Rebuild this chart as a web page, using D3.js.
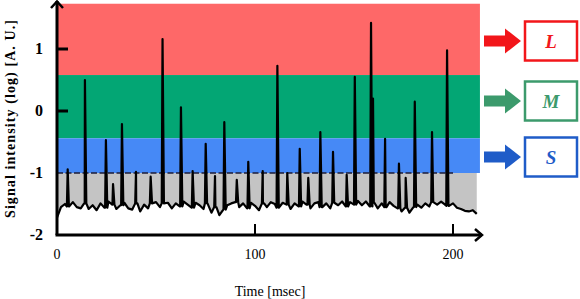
<!DOCTYPE html>
<html>
<head>
<meta charset="utf-8">
<script src="https://cdn.jsdelivr.net/npm/d3@7"></script>
<style>
  body { margin: 0; background: #fff; }
  text { font-family: 'Liberation Serif', 'DejaVu Serif', serif; }
</style>
</head>
<body>
<script>
// baseline noise, read every 2 ms
var baseTimes = d3.range(0, 216, 2)
var baseValues = [
  -1.72, -1.55, -1.50, -1.54, -1.47, -1.55, -1.57, -1.49, -1.58, -1.52,
  -1.60, -1.49, -1.56, -1.46, -1.51, -1.58, -1.52, -1.48, -1.57, -1.59,
  -1.49, -1.62, -1.51, -1.57, -1.49, -1.47, -1.55, -1.49, -1.48, -1.57,
  -1.49, -1.54, -1.46, -1.51, -1.56, -1.48, -1.52, -1.58, -1.49, -1.64,
  -1.55, -1.68, -1.59, -1.52, -1.49, -1.47, -1.55, -1.49, -1.57, -1.48,
  -1.53, -1.60, -1.49, -1.55, -1.47, -1.50, -1.56, -1.48, -1.51, -1.58,
  -1.49, -1.54, -1.46, -1.51, -1.57, -1.49, -1.47, -1.55, -1.49, -1.57,
  -1.48, -1.52, -1.46, -1.54, -1.47, -1.51, -1.45, -1.52, -1.46, -1.54,
  -1.48, -1.57, -1.49, -1.55, -1.47, -1.53, -1.57, -1.62, -1.56, -1.64,
  -1.55, -1.51, -1.56, -1.49, -1.54, -1.47, -1.51, -1.46, -1.51, -1.53,
  -1.49, -1.56, -1.58, -1.61, -1.62, -1.60, -1.66, -1.68
]

// spike times [msec] and peak values [log]
var spikeTimes = [5.4, 14.1, 24.7, 28.3, 32.8, 39.9, 47.3, 53.3, 62.6, 68.5,
  75.1, 79.8, 84.5, 90.8, 96.6, 103.9, 111.3, 116.3, 122.6, 126.9,
  133.0, 139.4, 146.3, 150.4, 158.6, 159.6, 165.7, 172.7, 176.1, 180.7,
  189.4, 197.0]
var spikePeaks = [-0.94, 0.50, -0.47, -1.18, -0.21, -0.98, -1.06, 1.16, 0.06, -0.97,
  -0.53, -1.05, -0.18, -1.11, -0.82, -0.97, 0.73, -1.00, -0.61, -1.08,
  -0.34, -0.66, -1.03, 0.55, 1.42, 0.20, -0.45, -0.85, -1.08, 0.15,
  -0.34, 0.98]

// level bands
var bandNames = ['L', 'M', 'S']
var bandLow = [0.58, -0.44, -1]
var bandHigh = [1.73, 0.58, -0.44]
var bandColors = ['#fe6868', '#03a674', '#4689f6']
var boxColors = ['#f2161a', '#3c9a6c', '#1f5cc8']

var yTicks = [1, 0, -1, -2]
var xTicks = [0, 100, 200]
var threshold = -1
var tEnd = 213.6

var width = 580, height = 299

var x = d3.scaleLinear().domain([0, 200]).range([57, 453])
var y = d3.scaleLinear().domain([-2, 1]).range([235, 49])

// merge baseline and spikes into one trace
var trace = baseTimes.map((t, i) => ({ t: t, v: baseValues[i] }))
spikeTimes.forEach((t, i) => {
  var b = baseValues[Math.round(t / 2)]
  trace.push({ t: t - 0.4, v: b })
  trace.push({ t: t, v: spikePeaks[i] })
  trace.push({ t: t + 0.7, v: b })
})
trace.sort((a, b) => a.t - b.t)
trace = trace.filter(d => d.t >= 0 && d.t <= tEnd)

var svg = d3.select('body').append('svg')
  .attr('width', width)
  .attr('height', height)

// bands
svg.selectAll('rect.band')
  .data(bandNames)
  .enter().append('rect')
  .attr('class', 'band')
  .attr('x', x(0))
  .attr('width', x(tEnd) - x(0))
  .attr('y', (d, i) => y(bandHigh[i]))
  .attr('height', (d, i) => y(bandLow[i]) - y(bandHigh[i]))
  .attr('fill', (d, i) => bandColors[i])

// gray area between threshold and trace
var grayArea = d3.area()
  .x(d => x(d.t))
  .y0(y(threshold))
  .y1(d => y(Math.min(d.v, threshold)))
svg.append('path')
  .datum(trace)
  .attr('d', grayArea)
  .attr('fill', '#c4c4c4')

// dashed threshold line
svg.append('line')
  .attr('x1', x(0)).attr('x2', x(200))
  .attr('y1', y(threshold)).attr('y2', y(threshold))
  .attr('stroke', '#1c1c3a')
  .attr('stroke-width', 1.5)
  .attr('stroke-dasharray', '6,2.5')

// signal trace
var line = d3.line()
  .x(d => x(d.t))
  .y(d => y(d.v))
svg.append('path')
  .datum(trace)
  .attr('d', line)
  .attr('fill', 'none')
  .attr('stroke', '#000')
  .attr('stroke-width', 2.2)
  .attr('stroke-linejoin', 'round')

// axes
var ax = svg.append('g')
  .attr('stroke', '#000')
  .attr('stroke-width', 3)
  .attr('fill', 'none')
ax.append('path').attr('d', `M${x(0)},${y(-2)} V1`)
ax.append('path').attr('d', `M${x(0) - 6},8 L${x(0)},1.5 L${x(0) + 6},8`).attr('stroke-width', 2.5)
ax.append('path').attr('d', `M${x(0) - 1.5},${y(-2)} H482`)
ax.append('path').attr('d', `M475,${y(-2) - 6} L482,${y(-2)} L475,${y(-2) + 6}`).attr('stroke-width', 2.5)

// y ticks (inward)
ax.selectAll('line.yt')
  .data(yTicks.filter(d => d > -1))
  .enter().append('line')
  .attr('x1', x(0)).attr('x2', x(0) + 11)
  .attr('y1', d => y(d)).attr('y2', d => y(d))
// x ticks (upward)
ax.selectAll('line.xt')
  .data(xTicks.filter(d => d > 0))
  .enter().append('line')
  .attr('x1', d => x(d)).attr('x2', d => x(d))
  .attr('y1', y(-2)).attr('y2', y(-2) - 11)
  .attr('stroke-width', 2)

svg.selectAll('text.yl')
  .data(yTicks)
  .enter().append('text')
  .attr('x', 43)
  .attr('y', d => y(d) + 5)
  .attr('text-anchor', 'end')
  .attr('font-size', 16)
  .attr('font-weight', 'bold')
  .text(d => d)

svg.selectAll('text.xl')
  .data(xTicks)
  .enter().append('text')
  .attr('x', d => x(d))
  .attr('y', 259)
  .attr('text-anchor', 'middle')
  .attr('font-size', 14)
  .text(d => d)

svg.append('text')
  .attr('x', 270)
  .attr('y', 296)
  .attr('text-anchor', 'middle')
  .attr('font-size', 14)
  .text('Time [msec]')

svg.append('text')
  .attr('transform', 'translate(15, 119) rotate(-90)')
  .attr('text-anchor', 'middle')
  .attr('font-size', 14)
  .attr('font-weight', 'bold')
  .attr('textLength', 198)
  .text('Signal intensity (log) [A. U.]')

// arrows and level boxes on the right
var rowY = [41, 101, 157]
var g = svg.selectAll('g.lvl')
  .data(bandNames)
  .enter().append('g')
  .attr('transform', (d, i) => `translate(0, ${rowY[i]})`)
g.append('path')
  .attr('d', 'M484,-5.5 H505 V-12.5 L521,0 L505,12.5 V5.5 H484 Z')
  .attr('fill', (d, i) => boxColors[i])
g.append('rect')
  .attr('x', 525).attr('y', -19.5)
  .attr('width', 52).attr('height', 39)
  .attr('fill', '#fff')
  .attr('stroke', (d, i) => boxColors[i])
  .attr('stroke-width', 2.5)
g.append('text')
  .attr('x', 551).attr('y', 7)
  .attr('text-anchor', 'middle')
  .attr('font-size', 19)
  .attr('font-weight', 'bold')
  .attr('font-style', 'italic')
  .attr('fill', (d, i) => boxColors[i])
  .text(d => d)
</script>
</body>
</html>
